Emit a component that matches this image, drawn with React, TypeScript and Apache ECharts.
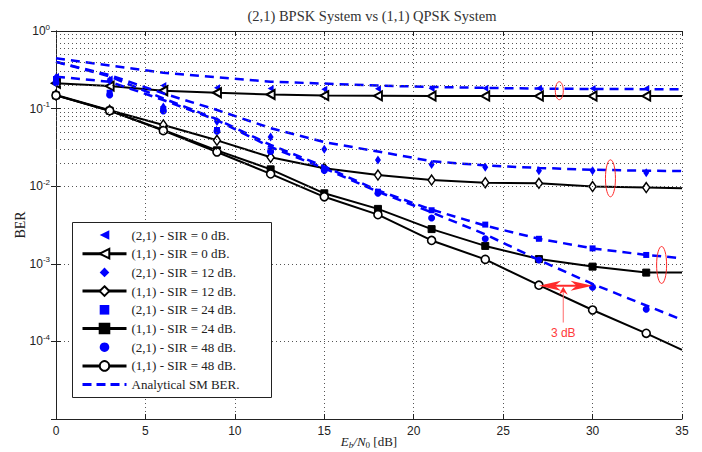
import React, { useEffect, useRef } from 'react';
import * as echarts from 'echarts';

// Eb/N0 points [dB]
const snr = [0, 3, 6, 9, 12, 15, 18, 21, 24, 27, 30, 33, 35];
const simSnr = [0, 3, 6, 9, 12, 15, 18, 21, 24, 27, 30, 33];

// (2,1) BPSK simulated BER
const sim21Sir0 = [0.26, 0.24, 0.198, 0.185, 0.182, 0.178, 0.18, 0.182, 0.183, 0.183, 0.182, 0.182];
const sim21Sir12 = [0.25, 0.23, 0.105, 0.068, 0.043, 0.03, 0.0218, 0.019, 0.0175, 0.0158, 0.0158, 0.0149];
const sim21Sir24 = [0.24, 0.16, 0.098, 0.053, 0.029, 0.0165, 0.0085, 0.0049, 0.0032, 0.0021, 0.00158, 0.0013];
const sim21Sir48 = [0.215, 0.15, 0.093, 0.051, 0.028, 0.016, 0.0081, 0.0039, 0.0021, 0.00112, 0.0005, 0.00026];

// (1,1) QPSK simulated BER
const sim11Sir0 = [0.212, 0.195, 0.17, 0.16, 0.152, 0.147, 0.146, 0.145, 0.145, 0.145, 0.145, 0.145, 0.145];
const sim11Sir12 = [0.15, 0.095, 0.0615, 0.039, 0.0236, 0.017, 0.0139, 0.012, 0.0111, 0.0109, 0.0099, 0.0096, 0.0094];
const sim11Sir24 = [0.148, 0.094, 0.053, 0.029, 0.0165, 0.0081, 0.0051, 0.0028, 0.0017, 0.00115, 0.00092, 0.00077, 0.00077];
const sim11Sir48 = [0.148, 0.094, 0.052, 0.0276, 0.0144, 0.0073, 0.0043, 0.002, 0.00114, 0.00053, 0.000254, 0.000127, 0.0000776];

// Analytical SM BER
const anaSir0 = [0.445, 0.36, 0.29, 0.253, 0.222, 0.21, 0.198, 0.19, 0.185, 0.181, 0.179, 0.178, 0.177];
const anaSir12 = [0.4, 0.27, 0.157, 0.096, 0.056, 0.037, 0.028, 0.021, 0.0185, 0.0172, 0.0163, 0.0158, 0.0157];
const anaSir24 = [0.4, 0.26, 0.135, 0.073, 0.034, 0.018, 0.0088, 0.005, 0.0031, 0.0021, 0.00158, 0.0013, 0.00118];
const anaSir48 = [0.258, 0.222, 0.129, 0.071, 0.032, 0.017, 0.0085, 0.0046, 0.0024, 0.00112, 0.00055, 0.00029, 0.00019];

const legendNames = [
  '(2,1) - SIR = 0 dB.',
  '(1,1) - SIR = 0 dB.',
  '(2,1) - SIR = 12 dB.',
  '(1,1) - SIR = 12 dB.',
  '(2,1) - SIR = 24 dB.',
  '(1,1) - SIR = 24 dB.',
  '(2,1) - SIR = 48 dB.',
  '(1,1) - SIR = 48 dB.',
  'Analytical SM BER.',
];

const titleText = '(2,1) BPSK System vs (1,1) QPSK System';

// annotation anchors (data coordinates)
const ellipseCenters: [number, number][] = [[28.14, 0.17], [31.0, 0.01264], [33.86, 0.000966]];
const arrowFromX = 27;
const arrowToX = 30;
const arrowLevel = 5.2e-4;
const pointerX = 28.36;
const pointerEnd = 1.75e-4;
const noteLevel = 1.28e-4;
const noteText = '3 dB';

const BLUE = '#0000ff';
const RED = '#ff2a2a';
const SERIF = '"Liberation Serif", "DejaVu Serif", serif';
const SANS = '"Liberation Sans", Arial, sans-serif';
const LEFT_TRI = 'path://M0,5L10,0L10,10Z';

function pairs(xs: number[], ys: number[], lastBare = false) {
  return ys.map((y, i) =>
    lastBare && i === ys.length - 1 ? { value: [xs[i], y], symbol: 'none' } : [xs[i], y]
  );
}

export default function App() {
  const ref = useRef<HTMLDivElement>(null);

  useEffect(() => {
    document.body.style.margin = '0';
    if (!ref.current) return;
    const chart = echarts.init(ref.current, null, { renderer: 'svg' });

    const minorLines: { yAxis: number }[] = [];
    for (let d = -5; d <= -1; d++) {
      for (let m = 2; m <= 9; m++) minorLines.push({ yAxis: m * Math.pow(10, d) });
    }

    const blueSim = (name: string, ys: number[], symbol: string, size: number | number[]) => ({
      name,
      type: 'line',
      data: pairs(simSnr, ys),
      symbol,
      symbolSize: size,
      showAllSymbol: true,
      lineStyle: { width: 0, opacity: 0 },
      itemStyle: { color: BLUE, borderWidth: 0 },
      z: 3,
    });

    const blackSim = (
      name: string,
      ys: number[],
      symbol: string,
      size: number | number[],
      fill: string,
      bw: number
    ) => ({
      name,
      type: 'line',
      data: pairs(snr, ys, true),
      symbol,
      symbolSize: size,
      showAllSymbol: true,
      lineStyle: { color: '#000', width: 2 },
      itemStyle: { color: fill, borderColor: '#000', borderWidth: bw },
      z: 3,
    });

    const ana = (ys: number[], name: string) => ({
      name,
      type: 'line',
      data: pairs(snr, ys),
      symbol: 'none',
      lineStyle: { color: BLUE, width: 2.5, type: [9, 6] },
      itemStyle: { color: BLUE },
      z: 4,
    });

    const axisColor = '#222';
    const gridDot = { color: '#555', width: 1, type: [1, 3] };

    const legendData = legendNames.map((n, i) => {
      if (i === 8) return { name: n, itemStyle: { opacity: 0 }, lineStyle: { width: 3, type: [9, 5] } };
      if (i % 2 === 1) return { name: n, lineStyle: { width: 3 } };
      return { name: n };
    });

    const option: any = {
      animation: false,
      backgroundColor: '#fff',
      grid: { left: 56, right: 20, top: 31, bottom: 33, outerBoundsMode: 'none', containLabel: false },
      xAxis: [
        {
          type: 'value',
          min: 0,
          max: 35,
          interval: 5,
          name: '{i|E}{sb|b}{i|/N}{s0|0}{n| [dB]}',
          nameLocation: 'middle',
          nameGap: 14,
          nameMoveOverlap: false,
          nameTextStyle: {
            rich: {
              i: { fontFamily: SERIF, fontStyle: 'italic', fontSize: 13, color: '#222', lineHeight: 16 },
              sb: { fontFamily: SERIF, fontStyle: 'italic', fontSize: 9, color: '#222', lineHeight: 9, verticalAlign: 'bottom' },
              s0: { fontFamily: SERIF, fontSize: 9, color: '#222', lineHeight: 9, verticalAlign: 'bottom' },
              n: { fontFamily: SERIF, fontSize: 13, color: '#222', lineHeight: 16 },
            },
          },
          axisLine: { show: true, lineStyle: { color: axisColor, width: 1 } },
          axisTick: { show: true, inside: true, length: 5, lineStyle: { color: axisColor } },
          axisLabel: { fontFamily: SANS, fontSize: 12, color: '#222', margin: 6 },
          splitLine: { show: true, lineStyle: gridDot },
        },
        {
          type: 'value',
          position: 'top',
          min: 0,
          max: 35,
          interval: 5,
          axisLine: { show: true, lineStyle: { color: axisColor, width: 1 } },
          axisTick: { show: true, inside: true, length: 5, lineStyle: { color: axisColor } },
          axisLabel: { show: false },
          splitLine: { show: false },
        },
      ],
      yAxis: [
        {
          type: 'log',
          logBase: 10,
          min: 1e-5,
          max: 1,
          name: 'BER',
          nameLocation: 'middle',
          nameGap: 29,
          nameMoveOverlap: false,
          nameTextStyle: { fontFamily: SERIF, fontSize: 14, color: '#222' },
          axisLine: { show: true, lineStyle: { color: axisColor, width: 1 } },
          axisTick: { show: true, inside: true, length: 5, lineStyle: { color: axisColor } },
          axisLabel: {
            margin: 6,
            formatter: (v: number) => {
              const e = Math.round(Math.log10(v));
              if (e <= -5) return '';
              return `{b|10}{s|${e}}`;
            },
            rich: {
              b: { fontFamily: SANS, fontSize: 12, color: '#222', lineHeight: 16 },
              s: { fontFamily: SANS, fontSize: 8, color: '#222', lineHeight: 8, verticalAlign: 'top' },
            },
          },
          splitLine: { show: true, lineStyle: gridDot },
        },
        {
          type: 'log',
          logBase: 10,
          min: 1e-5,
          max: 1,
          position: 'right',
          axisLine: { show: true, lineStyle: { color: axisColor, width: 1 } },
          axisTick: { show: true, inside: true, length: 5, lineStyle: { color: axisColor } },
          axisLabel: { show: false },
          splitLine: { show: false },
        },
      ],
      legend: {
        data: legendData,
        orient: 'vertical',
        left: 73,
        top: 223.5,
        itemWidth: 44,
        itemHeight: 12,
        itemGap: 5.7,
        padding: [5, 8, 5, 8],
        selectedMode: false,
        textStyle: { fontFamily: SERIF, fontSize: 13, color: '#222', lineHeight: 12 },
        z: 10,
      },
      series: [
        {
          name: 'minor-grid',
          type: 'line',
          data: [],
          silent: true,
          z: 1,
          markLine: {
            silent: true,
            symbol: ['none', 'none'],
            label: { show: false },
            lineStyle: { color: '#555', width: 1, type: [1, 3] },
            emphasis: { disabled: true },
            data: minorLines,
          },
        },
        blueSim(legendNames[0], sim21Sir0, LEFT_TRI, [6, 7]),
        blackSim(legendNames[1], sim11Sir0, LEFT_TRI, [8, 9], '#fff', 2),
        blueSim(legendNames[2], sim21Sir12, 'diamond', [6, 9]),
        blackSim(legendNames[3], sim11Sir12, 'diamond', [7, 10], '#fff', 1.5),
        blueSim(legendNames[4], sim21Sir24, 'rect', 6),
        blackSim(legendNames[5], sim11Sir24, 'rect', 7, '#000', 1),
        blueSim(legendNames[6], sim21Sir48, 'circle', 7),
        blackSim(legendNames[7], sim11Sir48, 'circle', 8, '#fff', 1.6),
        ana(anaSir0, legendNames[8]),
        ana(anaSir12, legendNames[8]),
        ana(anaSir24, legendNames[8]),
        ana(anaSir48, legendNames[8]),
      ],
    };

    chart.setOption(option);

    const px = (x: number, y: number) =>
      chart.convertToPixel({ xAxisIndex: 0, yAxisIndex: 0 }, [x, y]) as number[];

    const radii = [[4, 9], [5, 18.5], [5, 18.5]];
    const graphics: any[] = [
      {
        type: 'text',
        x: 372,
        y: 16,
        style: {
          text: titleText,
          font: `14.5px ${SERIF}`,
          fill: '#333',
          textAlign: 'center',
          textVerticalAlign: 'middle',
        },
      },
      {
        // legend frame
        type: 'rect',
        shape: { x: 72.5, y: 222.5, width: 199, height: 175 },
        style: { fill: '#fff', stroke: '#222', lineWidth: 1 },
        z: 9,
      },
    ];
    ellipseCenters.forEach((c, i) => {
      const p = px(c[0], c[1]);
      graphics.push({
        type: 'ellipse',
        shape: { cx: p[0], cy: p[1], rx: radii[i][0], ry: radii[i][1] },
        style: { fill: 'none', stroke: RED, lineWidth: 1 },
        z: 20,
      });
    });
    const a = px(arrowFromX, arrowLevel);
    const b = px(arrowToX, arrowLevel);
    const hl = 22;
    const hw = 5;
    graphics.push({
      type: 'line',
      shape: { x1: a[0] + 6, y1: a[1], x2: b[0] - 6, y2: b[1] },
      style: { stroke: RED, lineWidth: 2 },
      z: 20,
    });
    graphics.push({
      type: 'polygon',
      shape: { points: [[a[0], a[1]], [a[0] + hl, a[1] - hw], [a[0] + hl - 6, a[1]], [a[0] + hl, a[1] + hw]] },
      style: { fill: RED },
      z: 20,
    });
    graphics.push({
      type: 'polygon',
      shape: { points: [[b[0], b[1]], [b[0] - hl, b[1] - hw], [b[0] - hl + 6, b[1]], [b[0] - hl, b[1] + hw]] },
      style: { fill: RED },
      z: 20,
    });
    const pt = px(pointerX, arrowLevel);
    const pe = px(pointerX, pointerEnd);
    graphics.push({
      type: 'line',
      shape: { x1: pt[0], y1: pt[1] + 2, x2: pe[0], y2: pe[1] },
      style: { stroke: '#ff6a6a', lineWidth: 1 },
      z: 20,
    });
    graphics.push({
      type: 'polygon',
      shape: { points: [[pt[0], pt[1] + 1], [pt[0] - 4.5, pt[1] + 9], [pt[0], pt[1] + 6], [pt[0] + 4.5, pt[1] + 9]] },
      style: { fill: RED },
      z: 20,
    });
    const nt = px(pointerX, noteLevel);
    graphics.push({
      type: 'text',
      x: nt[0],
      y: nt[1],
      style: {
        text: noteText,
        font: `12px ${SANS}`,
        fill: '#ff3b3b',
        textAlign: 'center',
        textVerticalAlign: 'middle',
      },
      z: 20,
    });

    chart.setOption({ graphic: graphics });

    return () => {
      chart.dispose();
    };
  }, []);

  return <div ref={ref} style={{ width: 702, height: 452 }} />;
}
